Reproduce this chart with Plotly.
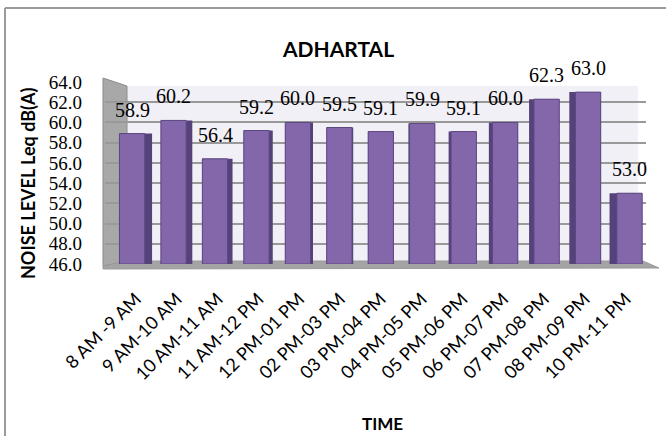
import plotly.graph_objects as go

# Hourly noise levels, Adhartal
time_slots = ["8 AM -9 AM", "9 AM-10 AM", "10 AM-11 AM", "11 AM-12 PM", "12 PM-01 PM",
              "02 PM-03 PM", "03 PM-04 PM", "04 PM-05 PM", "05 PM-06 PM", "06 PM-07 PM",
              "07 PM-08 PM", "08 PM-09 PM", "10 PM-11 PM"]
leq_values = [58.9, 60.2, 56.4, 59.2, 60.0, 59.5, 59.1, 59.9, 59.1, 60.0, 62.3, 63.0, 53.0]
y_ticks = [46.0, 48.0, 50.0, 52.0, 54.0, 56.0, 58.0, 60.0, 62.0, 64.0]
y_floor = 46.0

W, H = 666, 436
PL, PR, PT, PB = 105, 646, 82, 264  # plot area in pixels


def fx(px):
    return (px - PL) / (PR - PL)


def fy(py):
    return (PB - py) / (PB - PT)


n = len(time_slots)
idx = list(range(n))
mid = (n - 1) / 2
front_w = 0.62
shift = [(i - mid) * 0.016 for i in idx]          # perspective drift of front faces
depth = [abs(i - mid) * 0.03 for i in idx]        # visible side-face width

front_offset = [shift[i] - front_w / 2 for i in idx]
side_offset = [front_offset[i] if i < mid else front_offset[i] - depth[i] for i in idx]
side_width = [front_w + depth[i] for i in idx]
heights = [v - y_floor for v in leq_values]

fig = go.Figure()
# darker side faces
fig.add_trace(go.Bar(
    x=idx, y=heights, base=y_floor, offset=side_offset, width=side_width,
    marker=dict(color="#56427a", line=dict(width=0)), hoverinfo="skip", showlegend=False,
))
# front faces
fig.add_trace(go.Bar(
    x=idx, y=heights, base=y_floor, offset=front_offset, width=[front_w] * n,
    customdata=leq_values, hovertemplate="%{customdata:.1f}<extra></extra>",
    marker=dict(color="#8467aa", line=dict(color="#5c4880", width=1)), showlegend=False,
))

annotations = []
for i, v in enumerate(leq_values):
    annotations.append(dict(
        x=i + shift[i], y=v, xref="x", yref="y", text=f"{v:.1f}", showarrow=False,
        xanchor="center", yanchor="middle", yshift=24,
        font=dict(family="Liberation Serif", size=20, color="#000"),
    ))
annotations.append(dict(
    x=fx(338), y=fy(48), xref="paper", yref="paper", text="<b>ADHARTAL</b>", showarrow=False,
    xanchor="center", yanchor="middle", font=dict(family="Lato", size=21, color="#000"),
))
annotations.append(dict(
    x=fx(382), y=fy(423), xref="paper", yref="paper", text="<b>TIME</b>", showarrow=False,
    xanchor="center", yanchor="middle", font=dict(family="Lato", size=17, color="#000"),
))
annotations.append(dict(
    x=fx(28), y=fy(183), xref="paper", yref="paper", text="<b>NOISE LEVEL Leq dB(A)</b>",
    showarrow=False, textangle=-90, xanchor="center", yanchor="middle",
    font=dict(family="Lato", size=18, color="#000"),
))

shapes = [
    # back wall
    dict(type="rect", xref="paper", yref="paper", x0=fx(127), x1=fx(638), y0=fy(261), y1=fy(86),
         fillcolor="#f2f0f7", line=dict(width=0), layer="below"),
    # left side wall
    dict(type="path", xref="paper", yref="paper",
         path=f"M {fx(103)} {fy(78)} L {fx(127)} {fy(86)} L {fx(127)} {fy(261)} L {fx(103)} {fy(266)} Z",
         fillcolor="#a8a8a8", line=dict(color="#8c8c8c", width=1), layer="below"),
    # floor
    dict(type="path", xref="paper", yref="paper",
         path=f"M {fx(103)} {fy(266)} L {fx(127)} {fy(261)} L {fx(643)} {fy(261)} L {fx(659)} {fy(268)} L {fx(103)} {fy(269)} Z",
         fillcolor="#a4a4a4", line=dict(color="#9a9a9a", width=1), layer="below"),
    # outer frame (top and left edges)
    dict(type="line", xref="paper", yref="paper", x0=fx(5), x1=fx(W), y0=fy(8), y1=fy(8),
         line=dict(color="#9a9a9a", width=2), layer="above"),
    dict(type="line", xref="paper", yref="paper", x0=fx(5), x1=fx(5), y0=fy(8), y1=fy(H),
         line=dict(color="#9a9a9a", width=2), layer="above"),
]

fig.update_layout(
    width=W, height=H, barmode="overlay",
    margin=dict(l=PL, r=W - PR, t=PT, b=H - PB),
    paper_bgcolor="white", plot_bgcolor="rgba(0,0,0,0)",
    annotations=annotations, shapes=shapes,
    xaxis=dict(range=[-0.76, n - 0.5], tickvals=idx, ticktext=time_slots, tickangle=-45,
               showgrid=False, zeroline=False, showline=False, ticks="",
               ticklabelstandoff=20,
               tickfont=dict(family="Lato", size=18, color="#000")),
    yaxis=dict(range=[46, 64], tickvals=y_ticks, tickformat=".1f", showgrid=True,
               gridcolor="#999999", gridwidth=2, zeroline=False, showline=False, ticks="",
               ticklabelstandoff=22,
               tickfont=dict(family="Liberation Serif", size=19, color="#000")),
)

fig.write_html("out.html")
